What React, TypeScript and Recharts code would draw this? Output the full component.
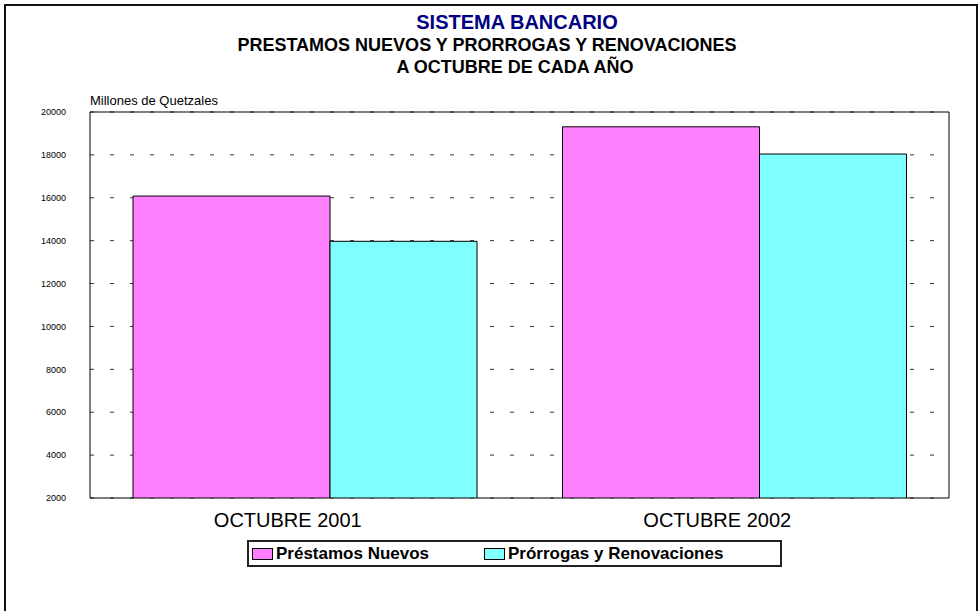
import { BarChart, Bar, XAxis, YAxis, CartesianGrid, ReferenceArea, Legend } from "recharts";

const categories = ["OCTUBRE 2001", "OCTUBRE 2002"];
const prestamosNuevos = [16080, 19310];
const prorrogasRenovaciones = [13970, 18040];
const yTicks = [2000, 4000, 6000, 8000, 10000, 12000, 14000, 16000, 18000, 20000];

const seriesNames = ["Préstamos Nuevos", "Prórrogas y Renovaciones"];
const PINK = "#FF80FF";
const CYAN = "#80FFFF";
const FONT = '"Liberation Sans", Arial, sans-serif';

const data = categories.map((c, i) => ({
  categoria: c,
  nuevos: prestamosNuevos[i],
  prorrogas: prorrogasRenovaciones[i],
}));

const LegendBox = (props: any) => {
  const items = props.payload || [];
  return (
    <div
      style={{
        boxSizing: "border-box",
        width: 535,
        height: 27,
        border: "2px solid #222",
        background: "#fff",
        display: "flex",
        alignItems: "center",
        paddingLeft: 3,
        fontFamily: FONT,
        fontWeight: "bold",
        fontSize: 17,
        color: "#000",
      }}
    >
      {items.map((it: any, i: number) => (
        <div key={i} style={{ display: "flex", alignItems: "center", width: i === 0 ? 232 : undefined }}>
          <span
            style={{
              display: "inline-block",
              width: 19,
              height: 10,
              background: it.color,
              border: "1px solid #000",
              marginRight: 3,
            }}
          />
          <span>{it.value}</span>
        </div>
      ))}
    </div>
  );
};

export default function App() {
  return (
    <div style={{ position: "absolute", left: 0, top: 0, width: 980, height: 611, background: "#fff", overflow: "hidden" }}>
      <div
        style={{
          position: "absolute",
          left: 4,
          top: 4,
          width: 970,
          height: 640,
          border: "2px solid #111",
        }}
      />
      <div style={{ position: "absolute", left: 0, top: 0 }}>
        <BarChart
          width={980}
          height={611}
          data={data}
          margin={{ top: 112, right: 31, left: 0, bottom: 83 }}
          barGap={0}
        >
          <text x={517} y={29} textAnchor="middle" fontFamily={FONT} fontWeight="bold" fontSize={20} fill="#000080">
            SISTEMA BANCARIO
          </text>
          <text x={487} y={51} textAnchor="middle" fontFamily={FONT} fontWeight="bold" fontSize={18} fill="#000">
            PRESTAMOS NUEVOS Y PRORROGAS Y RENOVACIONES
          </text>
          <text x={515} y={73} textAnchor="middle" fontFamily={FONT} fontWeight="bold" fontSize={18} fill="#000">
            A OCTUBRE DE CADA AÑO
          </text>
          <text x={90} y={105} fontFamily={FONT} fontSize={13} fill="#000">
            Millones de Quetzales
          </text>
          <CartesianGrid horizontal vertical={false} stroke="#333" strokeDasharray="4 16" fill="#fff" />
          <XAxis
            dataKey="categoria"
            height={30}
            axisLine={false}
            tickLine={false}
            tickSize={0}
            tickMargin={15}
            tick={{ fontFamily: FONT, fontSize: 20, fill: "#000", dx: -17 }}
          />
          <YAxis
            width={90}
            domain={[2000, 20000]}
            ticks={yTicks}
            interval={0}
            allowDataOverflow
            axisLine={false}
            tickLine={false}
            tickSize={0}
            tickMargin={24}
            tick={{ fontFamily: FONT, fontSize: 9, fill: "#000" }}
          />
          <Bar dataKey="nuevos" name={seriesNames[0]} fill={PINK} stroke="#000" strokeWidth={1} barSize={197} isAnimationActive={false} />
          <Bar dataKey="prorrogas" name={seriesNames[1]} fill={CYAN} stroke="#000" strokeWidth={1} barSize={147} isAnimationActive={false} />
          <ReferenceArea y1={2000} y2={20000} fill="none" stroke="#000" strokeWidth={1} ifOverflow="visible" />
          <Legend
            layout="horizontal"
            verticalAlign="middle"
            align="center"
            content={<LegendBox />}
            wrapperStyle={{ left: 247, top: 540, width: 535, height: 27 }}
          />
        </BarChart>
      </div>
    </div>
  );
}
